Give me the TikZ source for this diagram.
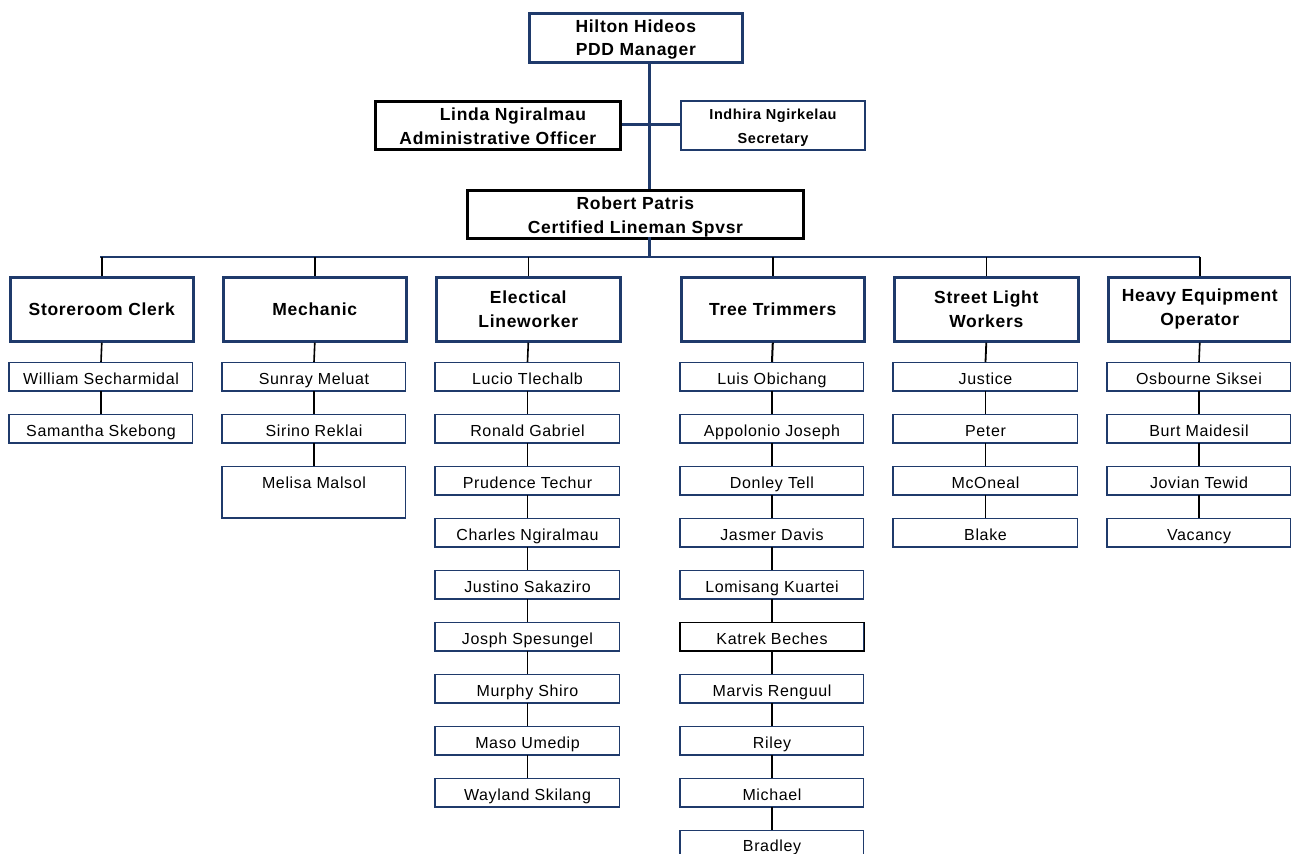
\documentclass[tikz,border=0pt]{standalone}
\usepackage{fontspec}
\setmainfont[LetterSpace=4]{Liberation Sans}
\definecolor{navy}{HTML}{1F3A6B}
\begin{document}
\begin{tikzpicture}[x=1pt,y=-1pt,
  box/.style={rectangle, inner sep=0pt, align=center, anchor=north west, fill=white},
  topbox/.style={box, draw=navy, line width=2.6pt, font=\bfseries\fontsize{17.5}{23}\selectfont},
  blackbox/.style={box, draw=black, line width=2.8pt, font=\bfseries\fontsize{17.5}{24}\selectfont},
  secbox/.style={box, draw=navy, line width=2pt, font=\bfseries\fontsize{14.5}{24}\selectfont},
  headbox/.style={box, draw=navy, line width=2.6pt, minimum height=64pt, font=\bfseries\fontsize{17.5}{24}\selectfont},
  member/.style={box, draw=navy, line width=1pt, minimum height=28pt, text height=16pt, text depth=1pt, font=\fontsize{16}{18}\selectfont},
  spine/.style={draw=navy, line width=3pt},
  bus/.style={draw=navy, line width=2.6pt},
  link/.style={draw=black, line width=1.6pt},
]
\useasboundingbox (0,0) rectangle (1291,854);
\clip (0,0) rectangle (1291,854);

% management
\node[topbox, minimum width=213pt, minimum height=49pt] (hilton) at (528,12) {\rule{0pt}{16pt}Hilton Hideos\\PDD Manager};
\node[blackbox, minimum width=245pt, minimum height=48pt] (linda) at (374,100) {\rule{0pt}{15pt}\hspace*{30pt}Linda Ngiralmau\\Administrative Officer};
\node[secbox, minimum width=184pt, minimum height=49pt] (indhira) at (680,100) {\rule{0pt}{16pt}Indhira Ngirkelau\\Secretary};
\node[blackbox, minimum width=336pt, minimum height=48pt] (robert) at (466,189) {\rule{0pt}{18pt}Robert Patris\\Certified Lineman Spvsr};

\coordinate (spinetop) at (649,61);
\coordinate (spinemid) at (649,124);
\coordinate (spinelow) at (649,189);
\coordinate (spinerob) at (649,237);
\coordinate (busmid) at (649,257);

\draw[spine] (spinetop) -- (spinelow);
\draw[spine] (linda.east |- spinemid) -- (indhira.west |- spinemid);
\draw[spine] (spinerob) -- (busmid);

% section heads
\node[headbox, minimum width=183pt] (h1) at (9,276) {Storeroom Clerk};
\node[headbox, minimum width=183pt] (h2) at (222,276) {Mechanic};
\node[headbox, minimum width=184pt] (h3) at (435,276) {\rule{0pt}{13pt}Electical\\Lineworker};
\node[headbox, minimum width=183pt] (h4) at (680,276) {Tree Trimmers};
\node[headbox, minimum width=184pt] (h5) at (893,276) {\rule{0pt}{13pt}Street Light\\Workers};
\node[headbox, minimum width=183pt] (h6) at (1107,276) {\rule{0pt}{13pt}Heavy Equipment\\Operator};

\coordinate (busL) at (100,257);
\coordinate (busR) at (1200,257);
\draw[bus] (busL) -- (busR);
\foreach \h in {h1,h2,h3,h4,h5,h6}
  \draw[link, line width=1.4pt] (\h.north) -- (\h.north |- busmid);

% staff lists
\foreach [count=\i] \n in {William Secharmidal, Samantha Skebong}
  \node[member, minimum width=183pt] (a\i) at (9,{362+52*(\i-1)}) {\n};
\foreach [count=\i] \n in {Sunray Meluat, Sirino Reklai}
  \node[member, minimum width=183pt] (b\i) at (222,{362+52*(\i-1)}) {\n};
\node[member, minimum width=183pt, minimum height=51pt, text height=17pt, text depth=25pt] (b3) at (222,466) {Melisa Malsol};
\foreach [count=\i] \n in {Lucio Tlechalb, Ronald Gabriel, Prudence Techur, Charles Ngiralmau, Justino Sakaziro, Josph Spesungel, Murphy Shiro, Maso Umedip, Wayland Skilang}
  \node[member, minimum width=184pt] (c\i) at (435,{362+52*(\i-1)}) {\n};
\foreach [count=\i] \n in {Luis Obichang, Appolonio Joseph, Donley Tell, Jasmer Davis, Lomisang Kuartei, Katrek Beches, Marvis Renguul, Riley, Michael}
  \node[member, minimum width=183pt] (d\i) at (680,{362+52*(\i-1)}) {\n};
\node[member, minimum width=183pt, minimum height=40pt, text height=17pt, text depth=15pt] (d10) at (680,830) {Bradley};
\foreach [count=\i] \n in {Justice, Peter, McOneal, Blake}
  \node[member, minimum width=184pt] (e\i) at (893,{362+52*(\i-1)}) {\n};
\foreach [count=\i] \n in {Osbourne Siksei, Burt Maidesil, Jovian Tewid, Vacancy}
  \node[member, minimum width=183pt] (f\i) at (1107,{362+52*(\i-1)}) {\n};

% heavier left and bottom edges of the staff boxes
\foreach \m in {a1,a2,b1,b2,b3,c1,c2,c3,c4,c5,c6,c7,c8,c9,d1,d2,d3,d4,d5,d7,d8,d9,d10,e1,e2,e3,e4,f1,f2,f3,f4}
  \draw[navy, line width=2pt] (\m.north west) -- (\m.south west) -- (\m.south east);
\draw[black, line width=1pt] (d6.north west) rectangle (d6.south east);
\draw[black, line width=2pt] (d6.north west) -- (d6.south west) -- (d6.south east);

% reporting lines inside each section
\draw[link] (h1.south) -- (a1.north);
\draw[link] (a1.south) -- (a2.north);
\draw[link] (h2.south) -- (b1.north);
\foreach \i [evaluate=\i as \j using int(\i+1)] in {1,2} \draw[link] (b\i.south) -- (b\j.north);
\draw[link] (h3.south) -- (c1.north);
\foreach \i [evaluate=\i as \j using int(\i+1)] in {1,...,8} \draw[link] (c\i.south) -- (c\j.north);
\draw[link, line width=2pt] (h4.south) -- (d1.north);
\foreach \i [evaluate=\i as \j using int(\i+1)] in {1,...,9} \draw[link, line width=2pt] (d\i.south) -- (d\j.north);
\draw[link, line width=1.8pt] (h5.south) -- (e1.north);
\foreach \i [evaluate=\i as \j using int(\i+1)] in {1,2,3} \draw[link, line width=1.8pt] (e\i.south) -- (e\j.north);
\draw[link] (h6.south) -- (f1.north);
\foreach \i [evaluate=\i as \j using int(\i+1)] in {1,2,3} \draw[link] (f\i.south) -- (f\j.north);
\end{tikzpicture}
\end{document}
